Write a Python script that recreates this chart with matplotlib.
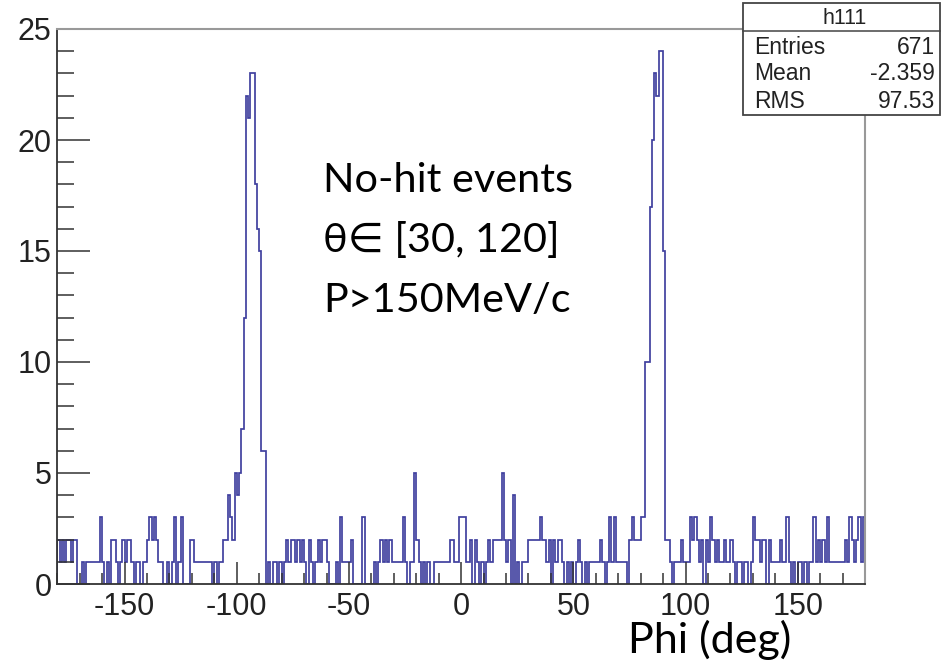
import numpy as np
import matplotlib
matplotlib.use("Agg")
import matplotlib.pyplot as plt
from matplotlib.ticker import MultipleLocator
from matplotlib.patches import Rectangle
from matplotlib.lines import Line2D

plt.rcParams['axes.unicode_minus'] = False

# 1-degree bins, phi from -180 to 180
counts_neg = [
    2, 1, 2, 1, 2, 2, 1, 2, 2, 0,      # -180 .. -171
    0, 1, 0, 1, 1, 1, 1, 1, 1, 3,      # -170 .. -161
    1, 0, 1, 0, 2, 2, 1, 0, 1, 2,      # -160 .. -151
    1, 2, 2, 1, 0, 1, 1, 0, 1, 1,      # -150 .. -141
    2, 3, 2, 3, 2, 1, 1, 0, 0, 1,      # -140 .. -131
    0, 1, 3, 0, 1, 3, 0, 0, 0, 2,      # -130 .. -121
    2, 1, 1, 1, 1, 1, 1, 1, 1, 0,      # -120 .. -111
    1, 0, 1, 1, 2, 2, 4, 3, 2, 5,      # -110 .. -101
    4, 5, 7, 12, 22, 21, 23, 23, 18, 16,  # -100 .. -91
    15, 6, 6, 0, 1, 0, 1, 1, 0, 1,     # -90 .. -81
    0, 1, 2, 1, 2, 2, 1, 2, 1, 2,      # -80 .. -71
    1, 0, 2, 1, 0, 1, 2, 1, 2, 2,      # -70 .. -61
    1, 0, 0, 0, 1, 0, 3, 1, 1, 1,      # -60 .. -51
    1, 2, 0, 0, 0, 0, 3, 0, 0, 0,      # -50 .. -41
    0, 1, 0, 1, 2, 1, 2, 1, 2, 1,      # -40 .. -31
    1, 1, 1, 1, 3, 1, 0, 1, 1, 5,      # -30 .. -21
    2, 1, 0, 1, 0, 1, 0, 0, 1, 1,      # -20 .. -11
    1, 1, 1, 1, 1, 2, 2, 1, 1, 3,      # -10 .. -1
]
counts_pos = [
    3, 3, 1, 1, 2, 0, 2, 1, 0, 1,      # 0 .. 9
    0, 1, 2, 1, 2, 2, 2, 2, 5, 2,      # 10 .. 19
    1, 2, 0, 4, 0, 1, 0, 1, 1, 1,      # 20 .. 29
    2, 2, 2, 2, 2, 3, 2, 2, 1, 2,      # 30 .. 39
    0, 2, 1, 2, 2, 1, 0, 1, 0, 1,      # 40 .. 49
    0, 1, 2, 1, 0, 1, 0, 1, 1, 1,      # 50 .. 59
    1, 1, 2, 1, 0, 1, 3, 1, 3, 1,      # 60 .. 69
    1, 1, 1, 1, 0, 2, 3, 2, 2, 2,      # 70 .. 79
    3, 3, 10, 10, 17, 20, 23, 22, 24, 24,  # 80 .. 89
    15, 2, 2, 1, 0, 1, 1, 1, 2, 1,     # 90 .. 99
    1, 1, 3, 2, 3, 2, 1, 2, 0, 2,      # 100 .. 109
    1, 3, 2, 1, 2, 1, 1, 2, 1, 1,      # 110 .. 119
    2, 1, 0, 1, 1, 0, 1, 1, 0, 1,      # 120 .. 129
    3, 2, 2, 1, 2, 2, 0, 2, 1, 1,      # 130 .. 139
    1, 1, 2, 1, 1, 3, 1, 0, 1, 0,      # 140 .. 149
    1, 1, 0, 1, 0, 1, 1, 3, 1, 2,      # 150 .. 159
    1, 2, 1, 3, 1, 1, 1, 1, 1, 1,      # 160 .. 169
    1, 2, 1, 3, 2, 1, 2, 3, 1, 3,      # 170 .. 179
]
counts = np.array(counts_neg + counts_pos)
edges = np.arange(-180, 181, 1)

x_ticks = [-150, -100, -50, 0, 50, 100, 150]
y_ticks = [0, 5, 10, 15, 20, 25]
stat_names = ["Entries", "Mean", "RMS"]
stat_values = ["671", "-2.359", "97.53"]
note_lines = ["No-hit events", "θ∈ [30, 120]", "P>150MeV/c"]

W, H = 941, 664
def fx(x):
    return x / W
def fy(y):
    return 1 - y / H

fig = plt.figure(figsize=(W / 100, H / 100), dpi=100)
ax = fig.add_axes([fx(57.3), fy(584), (865 - 57.3) / W, (584 - 29) / H])

ax.stairs(counts, edges, color='#40409f', lw=1.25)
ax.set_xlim(-180, 180)
ax.set_ylim(0, 25)

ax.set_xticks(x_ticks)
ax.set_yticks(y_ticks)
ax.xaxis.set_minor_locator(MultipleLocator(10))
ax.yaxis.set_minor_locator(MultipleLocator(1))
tick_font = 'Liberation Sans'
ax.tick_params(axis='x', which='major', direction='in', length=16, width=1.1,
               color='#333333', labelsize=22, pad=6)
ax.tick_params(axis='x', which='minor', direction='in', length=8, width=1.1, color='#333333')
ax.tick_params(axis='y', which='major', direction='in', length=24, width=1.1,
               color='#333333', labelsize=22, pad=4)
ax.tick_params(axis='y', which='minor', direction='in', length=12, width=1.1, color='#333333')
for lbl in ax.get_xticklabels() + ax.get_yticklabels():
    lbl.set_fontfamily(tick_font)
    lbl.set_color('#222222')

for side in ['left', 'bottom']:
    ax.spines[side].set_color('#333333')
    ax.spines[side].set_linewidth(1.3)
for side in ['top', 'right']:
    ax.spines[side].set_color('#999999')
    ax.spines[side].set_linewidth(1.5)

# stats box
box = Rectangle((fx(743), fy(115)), (940 - 743) / W, (115 - 3) / H,
                transform=fig.transFigure, facecolor='white', edgecolor='#444444',
                lw=1.3, zorder=5)
fig.add_artist(box)
fig.add_artist(Line2D([fx(743), fx(940)], [fy(31), fy(31)], transform=fig.transFigure,
                      color='#444444', lw=1.1, zorder=6))
fig.text(fx(845), fy(18), "h111", ha='center', va='center', fontsize=15.5,
         family=tick_font, color='#222222', zorder=7)
row_y = [47, 74, 101]
for name, val, y in zip(stat_names, stat_values, row_y):
    fig.text(fx(754), fy(y), name, ha='left', va='center', fontsize=16.5,
             family=tick_font, color='#222222', zorder=7)
    fig.text(fx(935), fy(y), val, ha='right', va='center', fontsize=16.5,
             family=tick_font, color='#222222', zorder=7)

# annotation text
note_font = ['Lato', 'DejaVu Sans']
for line, y in zip(note_lines, [192, 252, 312]):
    fig.text(fx(323), fy(y), line, ha='left', va='baseline', fontsize=29.8,
             family=note_font, color='black')

fig.text(fx(628), fy(653), "Phi (deg)", ha='left', va='baseline', fontsize=31,
         family=note_font, color='black')

fig.savefig("out.png", dpi=100)
